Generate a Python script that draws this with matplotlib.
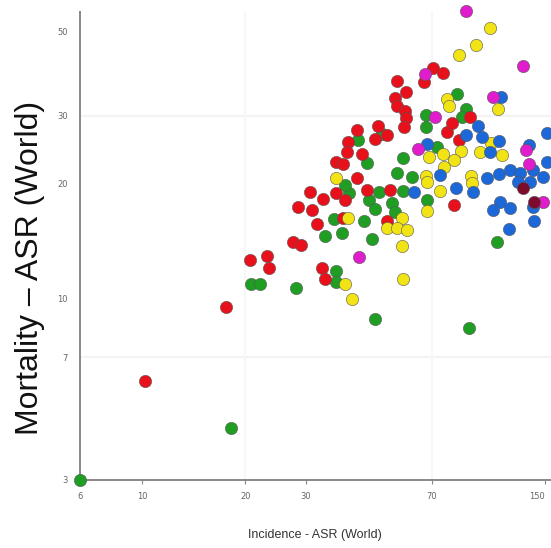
import matplotlib
matplotlib.use("Agg")
import matplotlib.pyplot as plt

# incidence / mortality ASR (World), one list pair per colour group
red_x = [10.2, 17.6, 20.6, 23.2, 23.5, 27.5, 29.0, 28.6, 70.5, 75.4, 66.3, 55.3, 59.1, 54.9,
         55.3, 58.7, 59.1, 58.3, 77.4, 80.1, 90.4, 83.9, 42.5, 40.0, 48.7, 47.7, 52.0, 39.5,
         43.7, 36.9, 38.5, 42.5, 31.0, 36.7, 33.8, 39.0, 45.2, 52.8, 31.4, 32.5, 38.5, 52.0,
         81.2, 33.4, 34.1]
red_y = [6.06, 9.47, 12.6, 12.9, 12.0, 14.0, 13.8, 17.3, 40.0, 38.8, 36.8, 37.0, 34.6, 33.4,
         31.8, 30.9, 29.6, 28.0, 27.2, 28.7, 29.8, 25.9, 27.5, 25.6, 28.2, 26.1, 26.7, 24.1,
         23.8, 22.7, 22.4, 20.6, 18.9, 18.8, 18.2, 18.1, 19.2, 19.2, 17.0, 15.6, 16.2, 15.9,
         17.5, 12.0, 11.2]

green_x = [6.59, 18.2, 20.8, 22.1, 28.2, 82.8, 88.0, 67.2, 67.2, 85.6, 50.0, 42.8, 72.4, 45.2,
           57.6, 55.3, 61.2, 49.3, 57.6, 40.3, 45.8, 53.8, 48.0, 68.1, 36.2, 44.3, 54.6, 38.2,
           34.1, 47.0, 108.4, 39.0, 36.7, 36.7, 48.0, 89.8]
green_y = [3.34, 4.57, 10.9, 10.9, 10.6, 34.2, 31.3, 30.1, 28.0, 29.8, 26.9, 25.9, 24.8, 22.6,
           23.2, 21.2, 20.7, 18.9, 19.1, 18.8, 18.1, 17.7, 17.1, 18.1, 16.1, 15.9, 16.8, 14.8,
           14.5, 14.3, 14.0, 19.8, 11.8, 11.0, 8.81, 8.35]

yellow_x = [103.4, 94.1, 83.9, 77.4, 78.5, 109.1, 104.1, 96.7, 112.1, 68.6, 75.4, 85.1, 81.2,
            75.9, 67.2, 68.1, 91.0, 91.6, 74.3, 67.7, 57.2, 51.7, 55.3, 59.5, 39.8, 36.7, 57.2,
            39.0, 41.1, 57.6]
yellow_y = [50.9, 45.9, 43.3, 33.2, 31.8, 31.3, 25.5, 24.1, 23.7, 23.4, 23.8, 24.3, 23.0,
            22.0, 20.9, 20.1, 20.9, 20.0, 19.1, 16.9, 16.2, 15.3, 15.3, 15.1, 16.2, 20.6, 13.7,
            10.9, 9.94, 11.2]

blue_x = [111.4, 95.4, 88.0, 98.0, 67.7, 109.9, 151.8, 134.5, 73.9, 101.4, 109.9, 118.3, 126.6,
          138.2, 147.8, 151.8, 82.3, 92.2, 62.4, 110.6, 105.5, 118.3, 138.2, 139.1, 117.5,
          124.9, 135.4, 103.4]
blue_y = [33.6, 28.2, 26.7, 26.4, 25.3, 25.8, 27.0, 25.2, 21.0, 20.6, 21.1, 21.6, 21.2,
          21.6, 20.7, 22.7, 19.4, 18.9, 18.9, 17.8, 17.0, 17.2, 17.3, 15.9, 15.2,
          20.1, 20.1, 24.1]

magenta_x = [88.0, 129.1, 66.8, 105.5, 71.4, 64.1, 131.8, 134.5, 147.8, 43.1]
magenta_y = [56.4, 40.5, 38.6, 33.6, 29.8, 24.6, 24.4, 22.4, 17.8, 12.8]

darkred_x = [129.1, 139.1]
darkred_y = [19.4, 17.8]

x_ticks = [6.58, 10, 20, 30, 70, 150]
x_labels = ["6", "10", "20", "30", "70", "150"]
y_ticks = [3.34, 7, 10, 20, 30, 50]
y_labels = ["3", "7", "10", "20", "30", "50"]

fig = plt.figure(figsize=(5.51, 5.48), dpi=100)
ax = fig.add_axes([0.1452, 0.1241, 0.8711, 0.854])
ax.set_xscale("log")
ax.set_yscale("log")
ax.set_xlim(6.58, 166)
ax.set_ylim(3.34, 56.1)

groups = [
    (green_x, green_y, "#1f9e23"),
    (red_x, red_y, "#e8111b"),
    (yellow_x, yellow_y, "#f2e414"),
    (blue_x, blue_y, "#1c68d8"),
    (magenta_x, magenta_y, "#e01ccd"),
    (darkred_x, darkred_y, "#7d0b2c"),
]
for xs, ys, col in groups:
    ax.scatter(xs, ys, s=78, c=col, edgecolors="#555555", linewidths=0.4,
               clip_on=False, zorder=3)

# very faint reference lines
for v in [7, 30]:
    ax.axhline(v, color="#f3f3f3", lw=1.5, zorder=0)
for v in [20, 70]:
    ax.axvline(v, color="#f7f7f7", lw=1.5, zorder=0)

ax.minorticks_off()
ax.set_xticks(x_ticks)
ax.set_xticklabels(x_labels)
ax.set_yticks(y_ticks)
ax.set_yticklabels(y_labels)
ax.tick_params(axis="x", length=3, width=0.8, color="#888888", labelsize=6,
               labelcolor="#666666", pad=6)
ax.tick_params(axis="y", length=0, labelsize=6, labelcolor="#666666", pad=9)
ax.get_xticklabels()[-1].set_horizontalalignment("right")

for side in ["top", "right"]:
    ax.spines[side].set_visible(False)
for side in ["left", "bottom"]:
    ax.spines[side].set_color("#888888")
    ax.spines[side].set_linewidth(1.4)

fig.text(315 / 551, 1 - 535 / 548, "Incidence - ASR (World)", ha="center", va="center",
         fontsize=9, color="#333333", family="Liberation Sans")
fig.text(30 / 551, 1 - 268 / 548, "Mortality \u2013 ASR (World)", ha="center", va="center",
         rotation=90, fontsize=23, color="#111111", family="Liberation Sans")

fig.savefig("out.png", dpi=100)
